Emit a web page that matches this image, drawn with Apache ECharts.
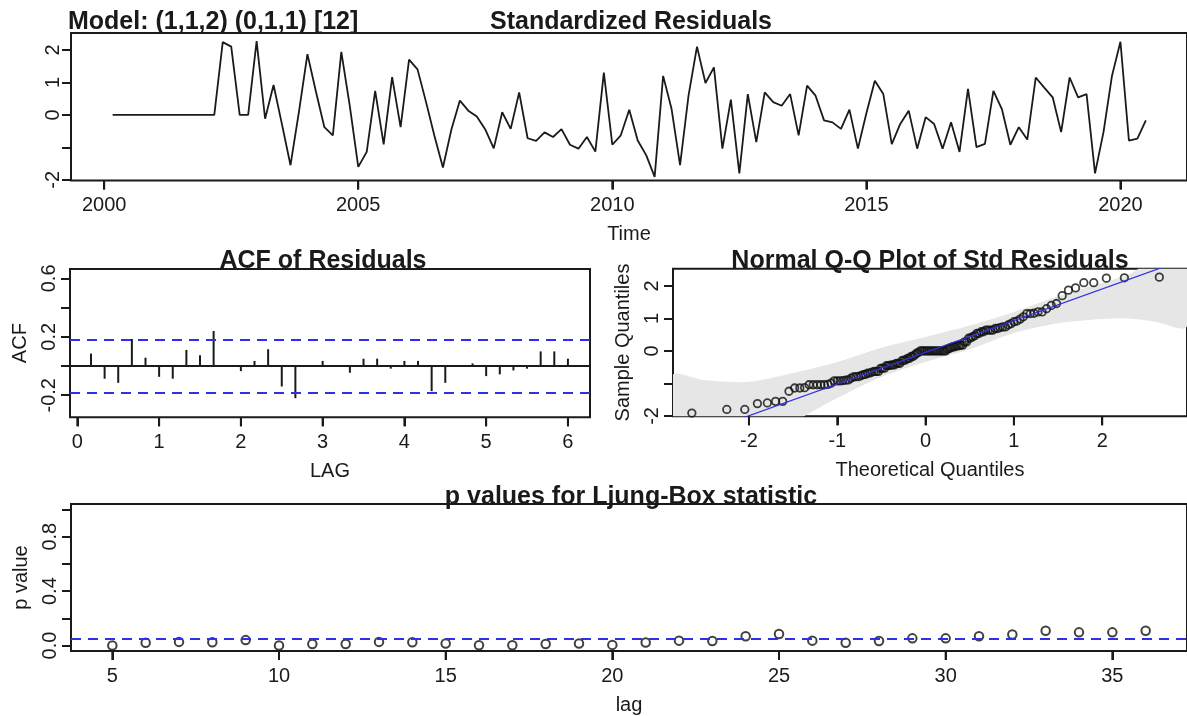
<!DOCTYPE html>
<html>
<head>
<meta charset="utf-8">
<script src="https://cdn.jsdelivr.net/npm/echarts@6/dist/echarts.min.js"></script>
<style>
  html, body { margin: 0; background: #fff; }
  #main { width: 1187px; height: 716px; }
</style>
</head>
<body>
<div id="main"></div>
<script>
// series sampled 6 times a year, first point at 2000 + 1/6
const freq = 6;
const startYear = 2000;
const stdResiduals = [
  0, 0, 0, 0, 0, 0, 0, 0, 0, 0, 0, 0, 0,
  2.24, 2.10, 0.00, 0.00, 2.27, -0.12, 0.92, -0.30, -1.55, 0.10,
  1.87, 0.72, -0.38, -0.63, 1.94, 0.28, -1.60, -1.14, 0.74, -0.91,
  1.16, -0.38, 1.70, 1.40, 0.40, -0.65, -1.62, -0.45, 0.44, 0.13,
  -0.05, -0.45, -1.03, 0.08, -0.43, 0.69, -0.72, -0.80, -0.54, -0.68,
  -0.44, -0.92, -1.04, -0.68, -1.13, 1.30, -0.92, -0.63, 0.16, -0.79,
  -1.24, -1.91, 1.20, 0.18, -1.55, 0.59, 2.10, 0.98, 1.46, -1.04,
  0.47, -1.80, 0.64, -0.84, 0.69, 0.39, 0.28, 0.64, -0.63, 0.90,
  0.59, -0.17, -0.23, -0.43, 0.16, -1.04, 0.05, 1.05, 0.64, -0.90,
  -0.28, 0.13, -1.04, -0.07, -0.28, -1.04, -0.23, -1.14, 0.80, -0.99,
  -0.89, 0.74, 0.18, -0.92, -0.38, -0.76, 1.15, 0.84, 0.54, -0.53,
  1.15, 0.54, 0.64, -1.80, -0.53, 1.20, 2.25, -0.79, -0.73, -0.17
];
const yearTicks = [2000, 2005, 2010, 2015, 2020];
const residTicks = [-2, -1, 0, 1, 2];
const residLabels = [-2, 0, 1, 2];

// ACF of residuals, lags 1..36 (in years: k/6)
const acfValues = [
  0.085, -0.087, -0.115, 0.185, 0.057, -0.074, -0.087, 0.11, 0.074, 0.24,
  0.003, -0.035, 0.035, 0.115, -0.14, -0.22, 0.004, 0.035, -0.004, -0.046,
  0.05, 0.05, -0.018, 0.035, 0.035, -0.172, -0.115, 0.003, 0.018, -0.069,
  -0.057, -0.03, -0.018, 0.1, 0.1, 0.05
];
const acfBound = 0.18;
const acfLagTicks = [0, 1, 2, 3, 4, 5, 6];
const acfTicks = [-0.2, 0, 0.2, 0.4, 0.6];
const acfLabels = [-0.2, 0.2, 0.6];

// grey envelope of the Q-Q plot
const qqBandX = [-2.88, -2.5, -2.0, -1.5, -1.0, -0.5, 0, 0.5, 1.0, 1.5, 2.0, 2.3, 2.6, 2.96];
const qqBandLow = [-4.7, -3.9, -3.0, -2.2, -1.45, -0.8, -0.34, 0.05, 0.55, 0.85, 0.98, 1.0, 0.9, 0.76];
const qqBandHigh = [-0.78, -0.9, -0.95, -0.68, -0.34, 0.1, 0.43, 0.78, 1.2, 1.68, 2.1, 2.35, 2.9, 3.6];
const qqXTicks = [-2, -1, 0, 1, 2];
const qqYTicks = [-2, -1, 0, 1, 2];
const qqYLabels = [-2, 0, 1, 2];

// Ljung-Box p values
const lbLags = [5, 6, 7, 8, 9, 10, 11, 12, 13, 14, 15, 16, 17, 18, 19, 20,
  21, 22, 23, 24, 25, 26, 27, 28, 29, 30, 31, 32, 33, 34, 35, 36];
const lbPValues = [0.0, 0.02, 0.027, 0.024, 0.04, 0.0, 0.012, 0.012, 0.027, 0.024, 0.015, 0.002, 0.002, 0.012, 0.015, 0.005,
  0.022, 0.036, 0.034, 0.068, 0.085, 0.036, 0.02, 0.034, 0.053, 0.053, 0.068, 0.082, 0.109, 0.097, 0.097, 0.109];
const lbSignif = 0.05;
const lbXTicks = [5, 10, 15, 20, 25, 30, 35];
const lbYTicks = [0, 0.2, 0.4, 0.6, 0.8, 1.0];
const lbYLabels = [0, 0.4, 0.8];

const FONT = '"Liberation Sans", Arial, sans-serif';
const INK = '#1a1a1a';
const BLUE = '#2f2fe6';

// inverse normal cdf (Acklam)
function qnorm(p) {
  const a = [-3.969683028665376e+01, 2.209460984245205e+02, -2.759285104469687e+02, 1.383577518672690e+02, -3.066479806614716e+01, 2.506628277459239e+00];
  const b = [-5.447609879822406e+01, 1.615858368580409e+02, -1.556989798598866e+02, 6.680131188771972e+01, -1.328068155288572e+01];
  const c = [-7.784894002430293e-03, -3.223964580411365e-01, -2.400758277161838e+00, -2.549732539343734e+00, 4.374664141464968e+00, 2.938163982698783e+00];
  const d = [7.784695709041462e-03, 3.224671290700398e-01, 2.445134137142996e+00, 3.754408661907416e+00];
  const pl = 0.02425;
  let q, r;
  if (p < pl) {
    q = Math.sqrt(-2 * Math.log(p));
    return (((((c[0]*q+c[1])*q+c[2])*q+c[3])*q+c[4])*q+c[5]) / ((((d[0]*q+d[1])*q+d[2])*q+d[3])*q+1);
  }
  if (p > 1 - pl) {
    q = Math.sqrt(-2 * Math.log(1 - p));
    return -(((((c[0]*q+c[1])*q+c[2])*q+c[3])*q+c[4])*q+c[5]) / ((((d[0]*q+d[1])*q+d[2])*q+d[3])*q+1);
  }
  q = p - 0.5; r = q * q;
  return (((((a[0]*r+a[1])*r+a[2])*r+a[3])*r+a[4])*r+a[5])*q / (((((b[0]*r+b[1])*r+b[2])*r+b[3])*r+b[4])*r+1);
}
function quantile7(sorted, p) {
  const h = (sorted.length - 1) * p, lo = Math.floor(h);
  const hi = Math.min(lo + 1, sorted.length - 1);
  return sorted[lo] + (h - lo) * (sorted[hi] - sorted[lo]);
}

// build series data
const residData = stdResiduals.map((v, i) => [startYear + (i + 1) / freq, v]);
const acfData = acfValues.map((v, i) => [(i + 1) / freq, v]);

const sortedRes = stdResiduals.slice().sort((a, b) => a - b);
const n = sortedRes.length;
const qqPoints = sortedRes.map((v, i) => [qnorm((i + 1 - 0.5) / n), v]);
const qy1 = quantile7(sortedRes, 0.25), qy3 = quantile7(sortedRes, 0.75);
const qx1 = qnorm(0.25), qx3 = qnorm(0.75);
const qqSlope = (qy3 - qy1) / (qx3 - qx1);
const qqInt = qy1 - qqSlope * qx1;
const QQ_MIN = -2.86, QQ_MAX = 2.96;
const qqLine = [[QQ_MIN, qqInt + qqSlope * QQ_MIN], [QQ_MAX, qqInt + qqSlope * QQ_MAX]];

const lbData = lbLags.map((l, i) => [l, lbPValues[i]]);

function axis(gridIndex, min, max, ticks, labels, fmt, extra) {
  return Object.assign({
    type: 'value', gridIndex, min, max,
    axisLine: {show: false, onZero: false},
    axisTick: {show: true, length: 9, lineStyle: {color: INK, width: 2}, customValues: ticks},
    axisLabel: {customValues: labels, formatter: fmt, color: INK, fontSize: 20, fontFamily: FONT, margin: 15},
    splitLine: {show: false},
    nameTextStyle: {color: INK, fontSize: 20, fontFamily: FONT},
    nameLocation: 'middle'
  }, extra || {});
}
const yLab = (ax, gap) => { ax.axisLabel.rotate = 90; ax.axisLabel.margin = gap; return ax; };
const gridStyle = {show: true, borderColor: INK, borderWidth: 2, backgroundColor: 'transparent'};
const titleFont = 'bold 25px ' + FONT;

// outward tick marks under each x axis, placed through the axis scale
function xTicks(idx, ticks) {
  return {
    type: 'custom', xAxisIndex: idx, yAxisIndex: idx, clip: false, silent: true, z: 5,
    data: ticks.map(v => [v]),
    encode: {x: 0},
    renderItem: (params, api) => {
      const cs = params.coordSys;
      const x = api.coord([api.value(0), 0])[0];
      const yb = cs.y + cs.height;
      return {type: 'line', shape: {x1: x, y1: yb, x2: x, y2: yb + 9}, style: {stroke: INK, lineWidth: 2}};
    }
  };
}

const chart = echarts.init(document.getElementById('main'));
chart.setOption({
  animation: false,
  backgroundColor: '#fff',
  grid: [
    Object.assign({left: 71, top: 33, width: 1120, height: 147.5}, gridStyle),
    Object.assign({left: 70, top: 269, width: 520, height: 148.3}, gridStyle),
    Object.assign({left: 673, top: 268.7, width: 520, height: 147.6}, gridStyle),
    Object.assign({left: 71, top: 504, width: 1122, height: 150}, gridStyle)
  ],
  xAxis: [
    axis(0, 1999.347, 2021.31, yearTicks, yearTicks, v => String(v), {name: 'Time', nameGap: 44}),
    axis(1, -0.09, 6.27, acfLagTicks, acfLagTicks, v => String(v), {name: 'LAG', nameGap: 44}),
    axis(2, QQ_MIN, QQ_MAX, qqXTicks, qqXTicks, v => String(v), {name: 'Theoretical Quantiles', nameGap: 44}),
    axis(3, 3.76, 37.24, lbXTicks, lbXTicks, v => String(v), {name: 'lag', nameGap: 44})
  ],
  yAxis: [
    yLab(axis(0, -2.02, 2.52, residTicks, residLabels, v => String(v)), 8),
    yLab(axis(1, -0.351, 0.664, acfTicks, acfLabels, v => v.toFixed(1), {name: 'ACF', nameGap: 40}), 11),
    yLab(axis(2, -2.01, 2.53, qqYTicks, qqYLabels, v => String(v), {name: 'Sample Quantiles', nameGap: 40}), 11),
    yLab(axis(3, -0.04, 1.04, lbYTicks, lbYLabels, v => v.toFixed(1), {name: 'p value', nameGap: 40}), 11)
  ],
  graphic: [
    {type: 'text', x: 68, y: 22, z: 10, style: {text: 'Model: (1,1,2) (0,1,1) [12]', font: titleFont, fill: INK, align: 'left', verticalAlign: 'middle'}},
    {type: 'text', x: 631, y: 22, z: 10, style: {text: 'Standardized Residuals', font: titleFont, fill: INK, align: 'center', verticalAlign: 'middle'}},
    {type: 'text', x: 323, y: 261, z: 10, style: {text: 'ACF of Residuals', font: titleFont, fill: INK, align: 'center', verticalAlign: 'middle'}},
    {type: 'text', x: 930, y: 261, z: 10, style: {text: 'Normal Q-Q Plot of Std Residuals', font: titleFont, fill: INK, align: 'center', verticalAlign: 'middle'}},
    {type: 'text', x: 631, y: 497, z: 10, style: {text: 'p values for Ljung-Box statistic', font: titleFont, fill: INK, align: 'center', verticalAlign: 'middle'}}
  ],
  series: [
    {
      type: 'line', xAxisIndex: 0, yAxisIndex: 0, data: residData,
      symbol: 'none', lineStyle: {color: INK, width: 1.8}, silent: true
    },
    {
      type: 'bar', xAxisIndex: 1, yAxisIndex: 1, data: acfData,
      barWidth: 2, itemStyle: {color: INK}, silent: true,
      markLine: {
        silent: true, symbol: ['none', 'none'], label: {show: false},
        data: [
          {yAxis: 0, lineStyle: {color: INK, width: 2, type: 'solid'}},
          {yAxis: acfBound, lineStyle: {color: BLUE, width: 2, type: [10, 7]}},
          {yAxis: -acfBound, lineStyle: {color: BLUE, width: 2, type: [10, 7]}}
        ]
      }
    },
    {
      // grey envelope drawn as one polygon, clipped to the plot box
      type: 'custom', xAxisIndex: 2, yAxisIndex: 2, data: [[0, 0]], clip: true, silent: true,
      renderItem: (params, api) => {
        const upper = qqBandX.map((x, i) => api.coord([x, qqBandHigh[i]]));
        const lower = qqBandX.map((x, i) => api.coord([x, qqBandLow[i]])).reverse();
        return {
          type: 'polygon',
          shape: {points: upper.concat(lower), smooth: 0.3},
          style: {fill: '#e6e6e6', stroke: null}
        };
      }
    },
    {
      type: 'scatter', xAxisIndex: 2, yAxisIndex: 2, data: qqPoints,
      symbol: 'circle', symbolSize: 7.5,
      itemStyle: {color: 'rgba(255,255,255,0)', borderColor: '#111', borderWidth: 1.8}, silent: true
    },
    {
      type: 'line', xAxisIndex: 2, yAxisIndex: 2, data: qqLine,
      symbol: 'none', lineStyle: {color: BLUE, width: 1.2}, silent: true
    },
    {
      type: 'scatter', xAxisIndex: 3, yAxisIndex: 3, data: lbData,
      symbol: 'circle', symbolSize: 8.5,
      itemStyle: {color: 'rgba(255,255,255,0)', borderColor: '#111', borderWidth: 2}, silent: true,
      markLine: {
        silent: true, symbol: ['none', 'none'], label: {show: false},
        data: [{yAxis: lbSignif, lineStyle: {color: BLUE, width: 2, type: [10, 7]}}]
      }
    },
    xTicks(0, yearTicks),
    xTicks(1, acfLagTicks),
    xTicks(2, qqXTicks),
    xTicks(3, lbXTicks)
  ]
});
</script>
</body>
</html>
